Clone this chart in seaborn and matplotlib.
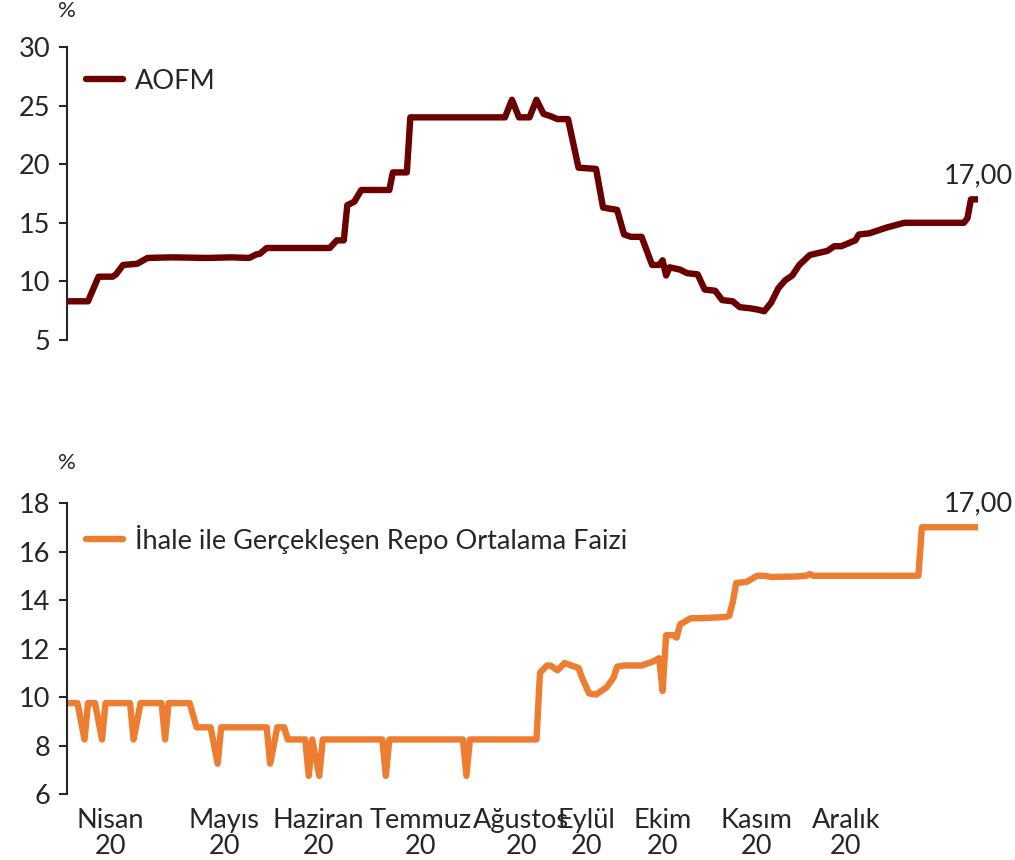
import matplotlib
matplotlib.use("Agg")
import matplotlib.pyplot as plt
import seaborn as sns
import pandas as pd

# AOFM (Ağırlıklı Ortalama Fonlama Maliyeti), iş günü sırası -> %
aofm_gun = [0, 6, 9, 13, 14, 16, 20, 23, 30, 40, 47, 52, 54, 55, 57, 75, 77, 79, 80, 82,
            84, 92, 93, 97, 98, 125, 127, 129, 132, 134, 136, 138, 140, 143, 146, 151,
            153, 157, 159, 161, 164, 167, 169, 170, 171, 172, 175, 177, 180, 182, 185,
            187, 190, 192, 195, 197, 199, 201, 203, 205, 207, 209, 212, 217, 219, 221,
            225, 226, 229, 234, 239, 256, 257, 258, 260]
aofm_deger = [8.3, 8.3, 10.4, 10.4, 10.6, 11.4, 11.5, 12.0, 12.05, 12.0, 12.05, 12.0,
              12.3, 12.35, 12.85, 12.85, 13.5, 13.5, 16.5, 16.8, 17.8, 17.8, 19.3, 19.3,
              24.0, 24.0, 25.5, 24.0, 24.0, 25.5, 24.3, 24.1, 23.85, 23.85, 19.7, 19.6,
              16.3, 16.1, 14.0, 13.8, 13.8, 11.4, 11.4, 11.8, 10.5, 11.2, 11.0, 10.7,
              10.6, 9.3, 9.2, 8.4, 8.3, 7.8, 7.7, 7.6, 7.45, 8.2, 9.4, 10.1, 10.5, 11.4,
              12.25, 12.6, 13.0, 13.0, 13.5, 14.0, 14.1, 14.6, 15.0, 15.0, 15.4, 17.0, 17.0]

# İhale ile gerçekleşen repo ortalama faizi
repo_gun = [0, 3, 5, 6, 8, 10, 11, 18, 19, 21, 27, 28, 29, 35, 37, 41, 43, 44, 57, 58,
            60, 62, 63, 68, 69, 70, 72, 73, 90, 91, 92, 113, 114, 115, 134, 135, 137,
            138, 140, 142, 146, 147, 149, 151, 154, 156, 157, 159, 164, 165, 167, 169,
            170, 171, 173, 174, 175, 178, 181, 188, 189, 190, 191, 194, 197, 199, 201,
            208, 211, 212, 213, 243, 244, 260]
repo_deger = [9.75, 9.75, 8.25, 9.75, 9.75, 8.25, 9.75, 9.75, 8.25, 9.75, 9.75, 8.25,
              9.75, 9.75, 8.75, 8.75, 7.25, 8.75, 8.75, 7.25, 8.75, 8.75, 8.25, 8.25,
              6.75, 8.25, 6.75, 8.25, 8.25, 6.75, 8.25, 8.25, 6.75, 8.25, 8.25, 11.0,
              11.3, 11.3, 11.1, 11.4, 11.2, 10.8, 10.15, 10.1, 10.4, 10.8, 11.25, 11.3,
              11.3, 11.35, 11.45, 11.6, 10.25, 12.55, 12.55, 12.45, 13.0, 13.25, 13.25,
              13.3, 13.35, 13.9, 14.7, 14.75, 15.0, 15.0, 14.95, 14.97, 15.0, 15.07,
              15.0, 15.0, 17.0, 17.0]

# Ay etiketleri ve bulundukları gün sırası
ay_etiket = ["Nisan\n20", "Mayıs\n20", "Haziran\n20", "Temmuz\n20", "Ağustos\n20",
             "Eylül\n20", "Ekim\n20", "Kasım\n20", "Aralık\n20"]
ay_gun = [12.3, 44.9, 71.7, 100.9, 129.7, 148.3, 170.0, 196.9, 222.3]

seri_adlari = ["AOFM", "İhale ile Gerçekleşen Repo Ortalama Faizi"]
renkler = ["#6B0000", "#ED7D31"]

sns.set_style("ticks")
plt.rcParams["font.family"] = ["Lato", "DejaVu Sans"]

FS = 19.5

df_aofm = pd.DataFrame({"gun": aofm_gun, "deger": aofm_deger})
df_repo = pd.DataFrame({"gun": repo_gun, "deger": repo_deger})

fig = plt.figure(figsize=(10.15, 8.6), dpi=100)
ax1 = fig.add_axes([0.066, 0.6047, 0.8975, 0.3406])
ax2 = fig.add_axes([0.066, 0.0767, 0.8975, 0.3384])

sns.lineplot(data=df_aofm, x="gun", y="deger", ax=ax1, color=renkler[0],
             linewidth=4.6, label=seri_adlari[0])
sns.lineplot(data=df_repo, x="gun", y="deger", ax=ax2, color=renkler[1],
             linewidth=4.6, label=seri_adlari[1])

eksenler = [(ax1, (5, 30), range(5, 31, 5), 32.2),
            (ax2, (6, 18), range(6, 19, 2), 19.25)]
for ax, ylim, yticks, yuzde in eksenler:
    ax.set_xlim(0, 260)
    ax.set_ylim(*ylim)
    ax.set_yticks(list(yticks))
    ax.set_xlabel("")
    ax.set_ylabel("")
    for s in ["top", "right", "bottom"]:
        ax.spines[s].set_visible(False)
    ax.spines["left"].set_linewidth(1.5)
    ax.tick_params(axis="y", labelsize=FS, length=6, width=1.5, pad=6)
    ax.legend(loc="upper left", frameon=False, fontsize=FS, handlelength=1.35,
              handletextpad=0.45, bbox_to_anchor=(0.0, 0.99), borderaxespad=0.3)
    ax.text(0.0, yuzde, "%", transform=ax.get_yaxis_transform(), fontsize=16,
            ha="center", va="bottom", clip_on=False)

ax1.set_xticks([])
ax2.set_xticks(ay_gun)
ax2.set_xticklabels(ay_etiket, fontsize=FS, linespacing=1.05)
ax2.tick_params(axis="x", length=0, pad=10)

for ax, gun, deger in [(ax1, aofm_gun, aofm_deger), (ax2, repo_gun, repo_deger)]:
    ax.annotate(f"{deger[-1]:.2f}".replace(".", ","), xy=(gun[-1], deger[-1]),
                xytext=(0, 17), textcoords="offset points", ha="center", va="center",
                fontsize=FS, annotation_clip=False)

fig.savefig("out.png", dpi=100)
